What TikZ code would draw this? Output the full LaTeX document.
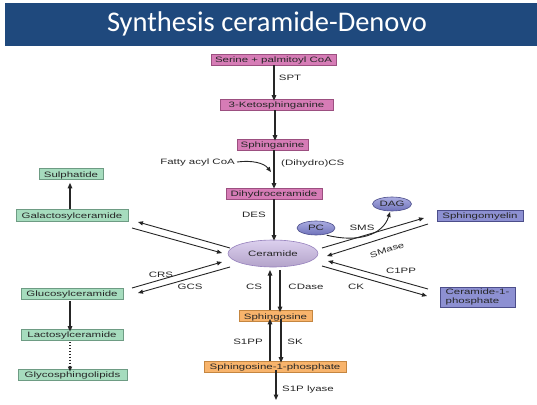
\documentclass[tikz,border=0pt]{standalone}
\usepackage{fontspec}
\usetikzlibrary{arrows.meta,shapes.geometric}
\newfontfamily\lblfont[FakeStretch=1.47]{Liberation Sans}
\newfontfamily\titlefont{Carlito}
\definecolor{titleblue}{HTML}{1F497D}
\definecolor{pinkfill}{HTML}{D67CB6}
\definecolor{pinkdraw}{HTML}{9C4F80}
\definecolor{greenfill}{HTML}{A6DCBE}
\definecolor{greendraw}{HTML}{6E9C84}
\definecolor{orangefill}{HTML}{F8B46C}
\definecolor{orangedraw}{HTML}{C58640}
\definecolor{purpfill}{HTML}{8D90D2}
\definecolor{purpdraw}{HTML}{4C4E8A}
\definecolor{cerfill}{HTML}{C7B5E0}
\definecolor{certop}{HTML}{DCD0EE}
\definecolor{cerdraw}{HTML}{9580BC}
\definecolor{pctop}{HTML}{ABADE2}
\definecolor{pcbot}{HTML}{6F72BA}
\begin{document}
\begin{tikzpicture}[x=1pt,y=-1pt,
  lbl/.style={font=\lblfont\fontsize{7.8}{9}\selectfont, text=black!85, inner sep=0pt},
  bx/.style={lbl, draw, line width=0.6pt, minimum height=11pt, text height=6.3pt, text depth=0pt},
  pinkbox/.style={bx, fill=pinkfill, draw=pinkdraw},
  greenbox/.style={bx, fill=greenfill, draw=greendraw},
  orangebox/.style={bx, fill=orangefill, draw=orangedraw},
  purpbox/.style={bx, fill=purpfill, draw=purpdraw},
  cerell/.style={ellipse, lbl, draw=cerdraw, line width=0.6pt, top color=certop, bottom color=cerfill!90!black, minimum width=90pt, minimum height=27pt},
  smallell/.style={ellipse, lbl, draw=purpdraw, line width=0.6pt, top color=pctop, bottom color=pcbot, minimum width=38pt, minimum height=14pt},
  arr/.style={draw=black!85, line width=1.1pt, -{Triangle[length=5.5pt,width=4.5pt]}},
  darr/.style={draw=black!85, line width=0.9pt, -{Triangle[length=5pt,width=4pt]}}
]
\fill[white] (0,0) rectangle (537,404);
\useasboundingbox (0,0) rectangle (537,404);
\fill[titleblue] (5,3) rectangle (537,46);
\node[font=\titlefont\fontsize{28.5}{32}\selectfont, text=white, inner sep=0pt] (title) at (267,24) {Synthesis ceramide-Denovo};

% main chain
\node[pinkbox, minimum width=125pt] (serine) at (273.5,59.5) {Serine + palmitoyl CoA};
\node[pinkbox, minimum width=113pt] (keto) at (276.5,104.5) {3-Ketosphinganine};
\node[pinkbox, minimum width=71pt] (sphinganine) at (272.5,144.5) {Sphinganine};
\node[pinkbox, minimum width=96pt] (dihydro) at (274,193.5) {Dihydroceramide};
\node[cerell] (cer) at (273,253.5) {Ceramide};
\node[orangebox, minimum width=73pt] (sphingosine) at (275.5,316) {Sphingosine};
\node[orangebox, minimum width=142pt] (s1p) at (275,366.5) {Sphingosine-1-phosphate};

% left
\node[greenbox, minimum width=64pt] (sulph) at (71,174) {Sulphatide};
\node[greenbox, minimum width=112pt, minimum height=12pt] (galacto) at (72,215) {Galactosylceramide};
\node[greenbox, minimum width=102pt] (gluco) at (72,293.5) {Glucosylceramide};
\node[greenbox, minimum width=102pt] (lacto) at (72,334.5) {Lactosylceramide};
\node[greenbox, minimum width=109pt] (glyco) at (72.5,374.5) {Glycosphingolipids};

% right
\node[smallell] (pc) at (316,228) {PC};
\node[smallell, minimum width=39pt] (dag) at (392,204) {DAG};
\node[purpbox, minimum width=86pt] (sm) at (480,215.5) {Sphingomyelin};
\node[purpbox, minimum width=75pt, minimum height=20pt, text height=, text depth=, align=left] (c1p) at (477.5,297) {Ceramide-1-\\phosphate};

% chain arrows
\coordinate (cx) at (274,0);
\coordinate (cx2) at (275,0);
\draw[arr] (serine.south -| cx) -- ([yshift=-2pt]keto.north -| cx);
\draw[arr] (keto.south -| cx2) -- ([yshift=-2pt]sphinganine.north -| cx2);
\draw[arr] (sphinganine.south -| cx) -- ([yshift=-1pt]dihydro.north -| cx);
\draw[arr] (dihydro.south -| cx) -- ([yshift=-1pt]cer.north -| cx);
\node[lbl] (spt) at (290,78) {SPT};
\node[lbl] (des) at (254,215) {DES};
\node[lbl, anchor=east] (fatty) at (235,162) {Fatty acyl CoA};
\coordinate (fattyend) at (271,172);
\draw[darr] ([xshift=2pt]fatty.east) .. controls (252,160) and (264,163) .. (fattyend);
\node[lbl, anchor=west] (dhcs) at (281,163) {(Dihydro)CS};

% ceramide <-> sphingosine
\coordinate (lx) at (270,0);
\coordinate (rx) at (280,0);
\draw[arr] (sphingosine.north -| lx) -- (270,270);
\draw[arr] (280,270) -- ([yshift=-2pt]sphingosine.north -| rx);
\node[lbl] (cs) at (254,287) {CS};
\node[lbl] (cdase) at (306,287) {CDase};

% sphingosine <-> S1P
\coordinate (rx2) at (281,0);
\draw[arr] (s1p.north -| lx) -- ([yshift=3pt]sphingosine.south -| lx);
\draw[arr] ([yshift=3pt]sphingosine.south -| rx2) -- ([yshift=-2pt]s1p.north -| rx2);
\node[lbl] (s1pp) at (248,342) {S1PP};
\node[lbl] (sk) at (295,342) {SK};
\coordinate (lyaseend) at (276,400);
\draw[arr] ([yshift=2pt]s1p.south -| lyaseend) -- (lyaseend);
\node[lbl, anchor=west] (lyase) at (282,389) {S1P lyase};

% left arrows
\coordinate (ga1) at (230,248);
\coordinate (ga2) at (138,222);
\coordinate (gb1) at (132,228);
\coordinate (gb2) at (222,253);
\draw[darr] (ga1) -- (ga2);
\draw[darr] (gb1) -- (gb2);
\coordinate (ua1) at (132,288);
\coordinate (ua2) at (222,262);
\coordinate (ub1) at (230,267);
\coordinate (ub2) at (138,293);
\draw[darr] (ua1) -- (ua2);
\draw[darr] (ub1) -- (ub2);
\node[lbl] (crs) at (161,275) {CRS};
\node[lbl] (gcs) at (190,287) {GCS};

\coordinate (vx) at (70,0);
\draw[arr] (galacto.north -| vx) -- ([yshift=-3pt]sulph.south -| vx);
\draw[arr] ([yshift=-2pt]gluco.south -| vx) -- ([yshift=-3pt]lacto.north -| vx);
\draw[darr, dotted, line width=1.1pt] ([yshift=-2pt]lacto.south -| vx) -- ([yshift=-3pt]glyco.north -| vx);

% right arrows
\coordinate (sa1) at (322,248);
\coordinate (sa2) at (424,218);
\coordinate (sb1) at (428,224);
\coordinate (sb2) at (327,256);
\draw[darr] (sa1) -- (sa2);
\draw[darr] (sb1) -- (sb2);
\node[lbl] (sms) at (362,228) {SMS};
\node[lbl, rotate=18] (smase) at (387,250) {SMase};
\coordinate (dagend) at (390,212);
\draw[darr] ([xshift=-3pt,yshift=-2pt]pc.south east) .. controls (358,243) and (383,235) .. (dagend);

\coordinate (ca1) at (428,289);
\coordinate (ca2) at (328,261);
\coordinate (cb1) at (322,266);
\coordinate (cb2) at (427,296);
\draw[darr] (ca1) -- (ca2);
\draw[darr] (cb1) -- (cb2);
\node[lbl] (c1pp) at (401,271) {C1PP};
\node[lbl] (ck) at (356,287) {CK};
\end{tikzpicture}
\end{document}
